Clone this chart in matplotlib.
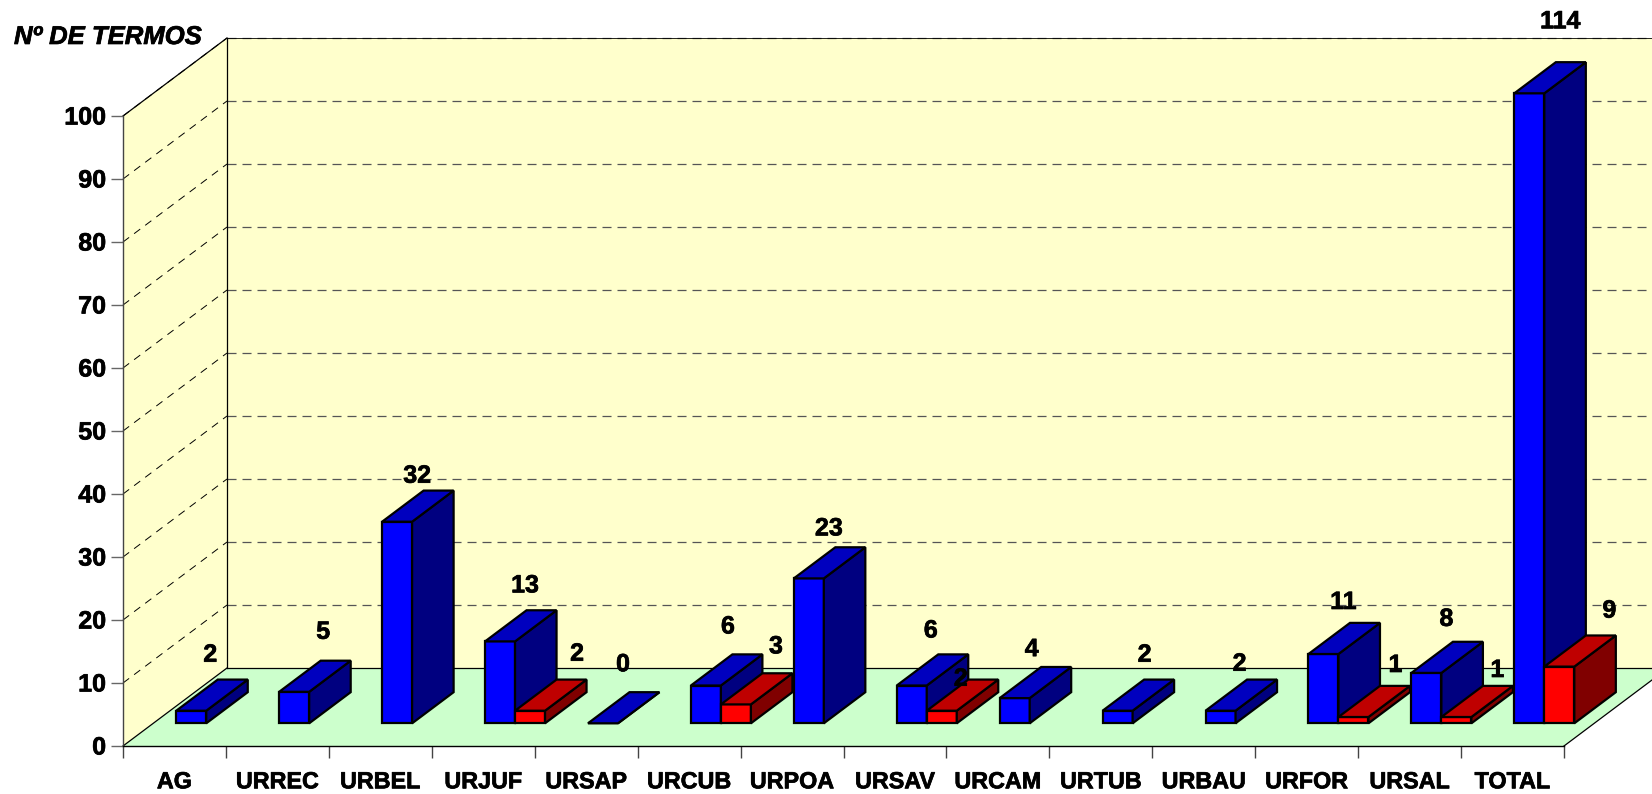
import numpy as np
import matplotlib
matplotlib.use("Agg")
import matplotlib.pyplot as plt
import matplotlib.patheffects as pe
from matplotlib.transforms import ScaledTranslation

plt.rcParams['font.family'] = ['Liberation Sans', 'DejaVu Sans']
plt.rcParams['lines.scale_dashes'] = False

categories = ['AG', 'URREC', 'URBEL', 'URJUF', 'URSAP', 'URCUB', 'URPOA',
              'URSAV', 'URCAM', 'URTUB', 'URBAU', 'URFOR', 'URSAL', 'TOTAL']
blue_values = [2, 5, 32, 13, 0, 6, 23, 6, 4, 2, 2, 11, 8, 114]
red_values = [None, None, None, 2, None, 3, None, 2, None, None, None, 1, 1, 9]
y_ticks = list(range(0, 101, 10))

# hand-placed data labels in the reference: offset (px) from the bar's front-top centre
blue_nudges = [(19, 56), (29, 60), (20, 46), (25, 56), (20, 59), (22, 59), (20, 50),
               (19, 55), (17, 49), (27, 56), (19, 47), (20, 52), (20, 54), (31, 72)]
red_nudges = {3: (47, 57), 5: (40, 58), 7: (19, 32), 11: (42, 52), 12: (41, 47), 13: (50, 56)}

W, H = 1652, 794
fig = plt.figure(figsize=(W / 100, H / 100), dpi=100, facecolor='white')
ax = fig.add_axes([123 / W, (H - 746) / H, (1564 - 123) / W, 630 / H])
ax.patch.set_visible(False)
n = len(categories)
y_max = y_ticks[-1]
ax.set_xlim(0, n)
ax.set_ylim(0, y_max)

# oblique projection: depth 0 is the front plane, depth 1 the back wall
DEPTH_X = 104 / (1441 / n)
DEPTH_Y = 78 / (630 / y_max)
HEAVY = [pe.withStroke(linewidth=0.5, foreground='black')]


def proj(x, v, d):
    return x + d * DEPTH_X, v + d * DEPTH_Y


def face(points, color, z, **kw):
    xs, ys = zip(*[proj(*p) for p in points])
    ax.fill(xs, ys, facecolor=color, clip_on=False, zorder=z, **kw)


WALL = '#FFFFCC'
FLOOR = '#CCFFCC'
face([(0, 0, 0), (0, y_max, 0), (0, y_max, 1), (0, 0, 1)], WALL, 1, edgecolor='none')
face([(0, 0, 1), (0, y_max, 1), (n, y_max, 1), (n, 0, 1)], WALL, 1, edgecolor='none')
face([(0, 0, 0), (n, 0, 0), (n, 0, 1), (0, 0, 1)], FLOOR, 1, edgecolor='none')


def line(a, b, **kw):
    pa, pb = proj(*a), proj(*b)
    ax.plot([pa[0], pb[0]], [pa[1], pb[1]], clip_on=False, zorder=1.5, **kw)


for v in y_ticks[1:]:
    line((0, v, 0), (0, v, 1), color='black', lw=0.7, dashes=(5.5, 4.5))
    line((0, v, 1), (n, v, 1), color='#555555', lw=0.9, dashes=(6.5, 4.3))
line((0, y_max, 0), (0, y_max, 1), color='black', lw=0.9)
line((0, y_max, 1), (n, y_max, 1), color='black', lw=0.6)
line((0, 0, 0), (0, 0, 1), color='black', lw=0.9)
line((0, 0, 1), (n, 0, 1), color='black', lw=0.9)
line((0, 0, 1), (0, y_max, 1), color='black', lw=0.9)
line((n, 0, 0), (n, 0, 1), color='black', lw=0.9)

# bars
BAR_W = 30 / (1441 / n)
BAR_GAP = 23 / (1441 / n)
D0 = 0.291
D1 = 0.69
EDGE = dict(edgecolor='black', linewidth=1.6, joinstyle='miter')


def bar(x0, value, front, top, side, z):
    h = min(value, y_max)
    x1 = x0 + BAR_W
    face([(x0, 0, D0), (x1, 0, D0), (x1, h, D0), (x0, h, D0)], front, z, **EDGE)
    face([(x1, 0, D0), (x1, 0, D1), (x1, h, D1), (x1, h, D0)], side, z, **EDGE)
    face([(x0, h, D0), (x1, h, D0), (x1, h, D1), (x0, h, D1)], top, z, **EDGE)
    return proj(x0 + BAR_W / 2, h, D0)


label_style = dict(textcoords='offset pixels', ha='center', va='center',
                   fontsize=18, fontweight='bold', color='black',
                   annotation_clip=False, zorder=20, path_effects=HEAVY)
z = 3
for i, name in enumerate(categories):
    x0 = i + BAR_GAP
    anchor = bar(x0, blue_values[i], '#0000FF', '#0000BF', '#000080', z)
    z += 0.01
    ax.annotate(str(blue_values[i]), anchor, xytext=blue_nudges[i], **label_style)
    if red_values[i] is not None:
        anchor = bar(x0 + BAR_W, red_values[i], '#FF0000', '#BF0000', '#800000', z)
        z += 0.01
        ax.annotate(str(red_values[i]), anchor, xytext=red_nudges[i], **label_style)

# axes furniture
for s in ('top', 'right'):
    ax.spines[s].set_visible(False)
ax.spines['left'].set_color('#444444')
ax.spines['left'].set_linewidth(1.0)
ax.spines['bottom'].set_color('black')
ax.spines['bottom'].set_linewidth(1.0)
ax.spines['left'].set_zorder(2)
ax.spines['bottom'].set_zorder(2)

ax.set_yticks(y_ticks)
ax.set_yticklabels([str(v) for v in y_ticks], fontsize=18, fontweight='bold', path_effects=HEAVY)
ax.tick_params(axis='y', length=8.6, width=1.0, color='#666666', pad=3.6)
up = ScaledTranslation(0, 1 / 100, fig.dpi_scale_trans)
for lab in ax.get_yticklabels():
    lab.set_transform(lab.get_transform() + up)
ax.set_xticks(np.arange(n + 1))
ax.set_xticklabels([])
ax.set_xticks(np.arange(n) + 0.5, minor=True)
ax.set_xticklabels(categories, minor=True, fontsize=16.8, fontweight='bold', path_effects=HEAVY)
ax.tick_params(axis='x', which='major', length=8.6, width=1.0, color='#444444')
ax.tick_params(axis='x', which='minor', length=0, pad=17.5)

fig.text(14 / W, 1 - 37 / H, 'Nº DE TERMOS', fontsize=18.5, fontweight='bold',
         fontstyle='italic', ha='left', va='center', path_effects=HEAVY)

fig.savefig('out.png', dpi=100)
